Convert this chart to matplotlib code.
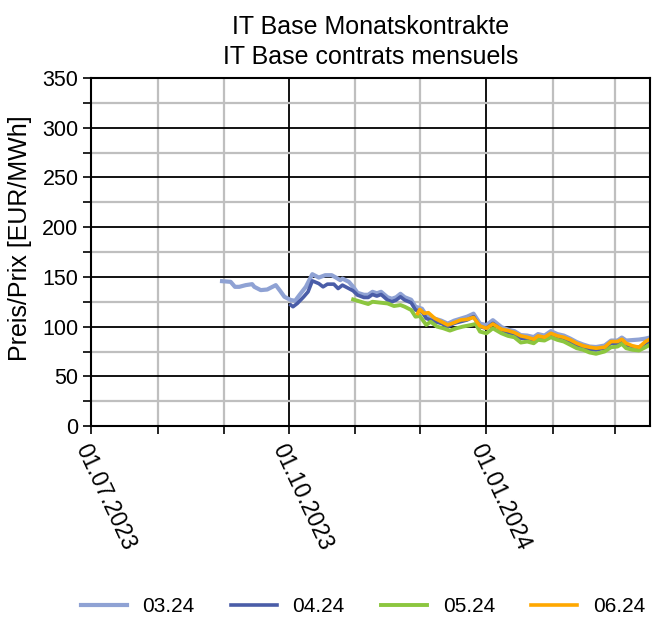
import matplotlib
matplotlib.use('Agg')
import matplotlib.pyplot as plt
import matplotlib.dates as mdates
import pandas as pd

plt.rcParams['font.family'] = ['Liberation Sans', 'DejaVu Sans']

# 03.24
d_0324 = ['2023-08-31', '2023-09-04', '2023-09-06', '2023-09-08', '2023-09-11', '2023-09-14',
          '2023-09-15', '2023-09-18', '2023-09-21', '2023-09-25', '2023-09-27', '2023-09-29',
          '2023-10-02', '2023-10-04', '2023-10-06', '2023-10-09', '2023-10-12', '2023-10-15',
          '2023-10-18', '2023-10-21', '2023-10-23', '2023-10-25', '2023-10-26', '2023-10-29',
          '2023-10-31', '2023-11-02', '2023-11-05', '2023-11-07', '2023-11-09', '2023-11-11',
          '2023-11-13', '2023-11-16', '2023-11-18', '2023-11-20', '2023-11-22', '2023-11-24',
          '2023-11-27', '2023-11-29', '2023-12-02', '2023-12-04', '2023-12-08', '2023-12-11',
          '2023-12-14', '2023-12-17', '2023-12-20', '2023-12-23', '2023-12-26', '2023-12-29',
          '2024-01-01', '2024-01-04', '2024-01-08', '2024-01-11', '2024-01-14', '2024-01-17',
          '2024-01-20', '2024-01-23', '2024-01-25', '2024-01-28', '2024-01-31', '2024-02-03',
          '2024-02-06', '2024-02-09', '2024-02-12', '2024-02-15', '2024-02-18', '2024-02-21',
          '2024-02-25', '2024-02-28', '2024-03-02', '2024-03-04', '2024-03-06', '2024-03-09',
          '2024-03-12', '2024-03-15', '2024-03-17']
v_0324 = [145.7, 145, 140, 140, 141.7, 142.7,
          140, 136.7, 137.3, 141.7, 136, 130,
          126.7, 126, 131.7, 140, 152.7, 149.3,
          151.7, 151.7, 149.3, 146.7, 148.3, 145,
          140, 134, 132, 132, 135, 133.5,
          135, 129.5, 128, 129.5, 133, 129.5,
          127, 120, 118, 111.5, 108, 106,
          103, 106, 108, 110, 113, 103,
          101.5, 106.5, 99.5, 97, 95.5, 91.5,
          91, 89.5, 92.5, 91, 95.5, 92.5,
          91, 88, 84.5, 82, 80, 79.5,
          81, 86, 86, 89, 86, 86.5,
          87, 88, 89]

# 04.24
d_0424 = ['2023-10-02', '2023-10-03', '2023-10-05', '2023-10-08', '2023-10-10', '2023-10-12',
          '2023-10-15', '2023-10-17', '2023-10-19', '2023-10-22', '2023-10-24', '2023-10-26',
          '2023-10-29', '2023-10-31', '2023-11-02', '2023-11-05', '2023-11-07', '2023-11-09',
          '2023-11-11', '2023-11-13', '2023-11-16', '2023-11-18', '2023-11-20', '2023-11-22',
          '2023-11-24', '2023-11-27', '2023-11-29', '2023-12-02', '2023-12-04', '2023-12-08',
          '2023-12-11', '2023-12-14', '2023-12-17', '2023-12-20', '2023-12-23', '2023-12-26',
          '2023-12-29', '2024-01-01', '2024-01-04', '2024-01-08', '2024-01-11', '2024-01-14',
          '2024-01-17', '2024-01-20', '2024-01-23', '2024-01-25', '2024-01-28', '2024-01-31',
          '2024-02-03', '2024-02-06', '2024-02-09', '2024-02-12', '2024-02-15', '2024-02-18',
          '2024-02-21', '2024-02-25', '2024-02-28', '2024-03-02', '2024-03-04', '2024-03-06',
          '2024-03-09', '2024-03-12', '2024-03-15', '2024-03-17']
v_0424 = [121.7, 120, 123.3, 130, 135, 146,
          143.3, 140, 142.7, 142.7, 138.3, 141.7,
          138.3, 136, 131.7, 129.3, 129.3, 132.3,
          130.7, 132.3, 126.7, 125, 126.7, 130,
          126.7, 124, 116.7, 115, 108.3, 105,
          103.3, 100, 103.3, 105, 106.7, 110,
          100, 98.3, 103.3, 96.7, 94, 92.7,
          88.3, 88.3, 86.7, 90, 88.3, 92.7,
          90, 88.3, 85, 81.7, 79.3, 77.3,
          76.7, 78.3, 83.3, 83.3, 86.7, 81.7,
          80, 79.3, 83.3, 85]

# 05.24
d_0524 = ['2023-10-31', '2023-11-02', '2023-11-05', '2023-11-07', '2023-11-09', '2023-11-13',
          '2023-11-16', '2023-11-19', '2023-11-22', '2023-11-24', '2023-11-27', '2023-11-29',
          '2023-12-01', '2023-12-04', '2023-12-06', '2023-12-09', '2023-12-12', '2023-12-15',
          '2023-12-18', '2023-12-21', '2023-12-25', '2023-12-27', '2023-12-29', '2024-01-01',
          '2024-01-04', '2024-01-08', '2024-01-11', '2024-01-14', '2024-01-17', '2024-01-20',
          '2024-01-23', '2024-01-25', '2024-01-28', '2024-01-31', '2024-02-03', '2024-02-06',
          '2024-02-09', '2024-02-12', '2024-02-15', '2024-02-18', '2024-02-21', '2024-02-25',
          '2024-02-28', '2024-03-02', '2024-03-04', '2024-03-06', '2024-03-09', '2024-03-12',
          '2024-03-15', '2024-03-17']
v_0524 = [127.3, 126, 124, 122.7, 125, 124,
          123.3, 120.7, 121.7, 120, 116.7, 110,
          110.7, 101.7, 105, 100, 98.3, 96,
          98.3, 100, 101.7, 102.7, 95, 93.3,
          98.3, 93.3, 90.7, 89.3, 84, 85,
          83.3, 86.7, 86, 89.3, 86.7, 85,
          81.7, 78.3, 76.7, 74, 72.7, 75,
          79.3, 80, 82.7, 78.3, 76.7, 76,
          79.3, 81.7]

# 06.24
d_0624 = ['2023-11-30', '2023-12-01', '2023-12-03', '2023-12-05', '2023-12-08', '2023-12-11',
          '2023-12-14', '2023-12-17', '2023-12-20', '2023-12-23', '2023-12-26', '2023-12-29',
          '2024-01-01', '2024-01-04', '2024-01-08', '2024-01-11', '2024-01-14', '2024-01-17',
          '2024-01-20', '2024-01-23', '2024-01-25', '2024-01-28', '2024-01-31', '2024-02-03',
          '2024-02-06', '2024-02-09', '2024-02-12', '2024-02-15', '2024-02-18', '2024-02-21',
          '2024-02-25', '2024-02-28', '2024-03-02', '2024-03-04', '2024-03-06', '2024-03-09',
          '2024-03-12', '2024-03-15', '2024-03-17']
v_0624 = [113.3, 117.3, 113.3, 114, 108.3, 105,
          101.7, 104, 106.7, 107.3, 109.3, 100.7,
          98.3, 102.7, 97.3, 96, 94, 90.7,
          89.3, 87.3, 90.7, 89.3, 93.3, 90.7,
          89.3, 86.7, 83.3, 80.7, 79.3, 78.3,
          79.3, 85, 85, 87.3, 83.3, 80.7,
          79.3, 85, 87.3]

series = [
    ('03.24', d_0324, v_0324, '#8fa2d4', 3.0),
    ('04.24', d_0424, v_0424, '#4a5da8', 2.6),
    ('05.24', d_0524, v_0524, '#8cc63f', 2.8),
    ('06.24', d_0624, v_0624, '#ffa800', 2.6),
]

fig = plt.figure(figsize=(6.59, 6.23), dpi=100)
ax = fig.add_axes([0.138, 0.316, 0.848, 0.559])

for name, d, v, c, lw in series:
    ax.plot(pd.to_datetime(d), v, color=c, lw=lw, label=name, solid_joinstyle='round')

ax.set_xlim(pd.Timestamp('2023-07-01'), pd.Timestamp('2024-03-17'))
ax.set_ylim(0, 350)
ax.set_yticks(range(0, 351, 50))
ax.set_yticks(range(25, 350, 50), minor=True)
ax.xaxis.set_major_locator(mdates.MonthLocator(bymonth=[1, 4, 7, 10]))
ax.xaxis.set_minor_locator(mdates.MonthLocator())
ax.xaxis.set_major_formatter(mdates.DateFormatter('%d.%m.%Y'))

ax.set_axisbelow(True)
ax.grid(which='major', color='black', lw=1.3)
ax.grid(which='minor', color='#bfbfbf', lw=1.6)
ax.tick_params(which='both', direction='out', length=6, width=1.2, color='black')
ax.tick_params(axis='y', labelsize=15.5, pad=3)
ax.tick_params(axis='x', labelsize=16.5, pad=4)
for lbl in ax.get_xticklabels():
    lbl.set_rotation(-65)
    lbl.set_ha('left')
    lbl.set_va('top')
    lbl.set_rotation_mode('anchor')
for s in ax.spines.values():
    s.set_color('black')
    s.set_linewidth(1.5)

ax.set_ylabel('Preis/Prix [EUR/MWh]', fontsize=18)
ax.yaxis.set_label_coords(-0.105, 0.54)
ax.set_title('IT Base Monatskontrakte\nIT Base contrats mensuels', fontsize=18, pad=10,
             linespacing=1.3)

fig.legend(loc='center left', bbox_to_anchor=(81 / 659, 0.026), ncol=4, frameon=False,
           fontsize=15, handlelength=2.2, handletextpad=0.75, columnspacing=1.75,
           borderpad=0, borderaxespad=0)

plt.savefig('out.png', dpi=100)
plt.close()
